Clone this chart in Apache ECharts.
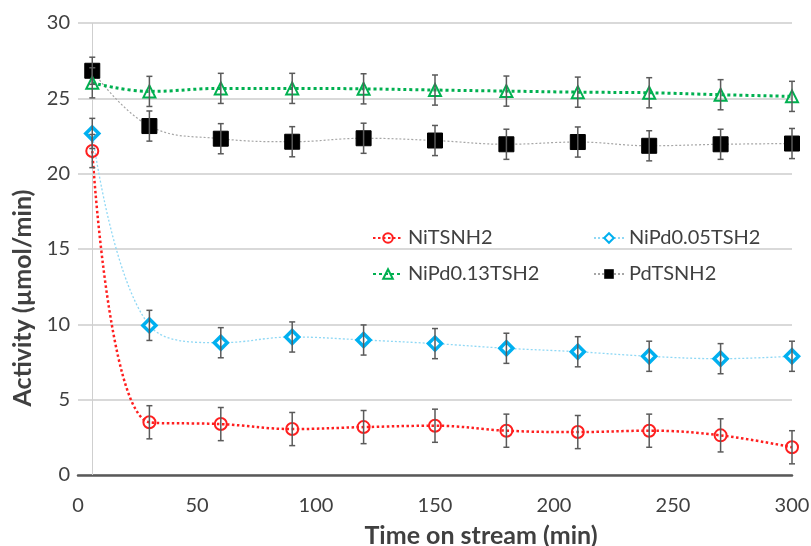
<!DOCTYPE html>
<html>
<head>
<meta charset="utf-8">
<script src="https://cdn.jsdelivr.net/npm/echarts@6/dist/echarts.min.js"></script>
<style>
html,body{margin:0;padding:0;background:#fff;}
#chart{width:811px;height:546px;}
</style>
</head>
<body>
<div id="chart"></div>
<script>
const times = [6, 30, 60, 90, 120, 150, 180, 210, 240, 270, 300];
const xTicks = [0, 50, 100, 150, 200, 250, 300];
const yTicks = [0, 5, 10, 15, 20, 25, 30];

const niTSNH2 = [21.5, 3.5, 3.38, 3.05, 3.18, 3.27, 2.94, 2.85, 2.94, 2.63, 1.84];
const niTSNH2Err = [1.1, 1.1, 1.1, 1.1, 1.1, 1.1, 1.1, 1.1, 1.1, 1.1, 1.1];

const niPd005 = [22.67, 9.93, 8.78, 9.16, 8.96, 8.72, 8.41, 8.18, 7.88, 7.72, 7.88];
const niPd005Err = [1.0, 1.0, 1.0, 1.0, 1.0, 1.0, 1.0, 1.0, 1.0, 1.0, 1.0];

const niPd013 = [26.03, 25.46, 25.66, 25.66, 25.63, 25.55, 25.48, 25.41, 25.37, 25.24, 25.13];
const niPd013Err = [1.0, 1.0, 1.0, 1.0, 1.0, 1.0, 1.0, 1.0, 1.0, 1.0, 1.0];

const pdTSNH2 = [26.83, 23.16, 22.32, 22.12, 22.35, 22.2, 21.95, 22.1, 21.85, 21.95, 22.0];
const pdTSNH2Err = [0.9, 1.0, 1.0, 1.0, 1.0, 1.0, 1.0, 1.0, 1.0, 1.0, 1.0];

const names = ['NiTSNH2', 'NiPd0.05TSH2', 'NiPd0.13TSH2', 'PdTSNH2'];

const FONT = 'Lato, "Open Sans", sans-serif';

function pairs(vals) { return times.map((t, i) => [t, vals[i]]); }
function errData(vals, errs) { return times.map((t, i) => [t, vals[i] - errs[i], vals[i] + errs[i]]); }

function errorSeries(vals, errs) {
  return {
    type: 'custom',
    z: 5,
    silent: true,
    data: errData(vals, errs),
    encode: { x: 0, y: [1, 2] },
    renderItem: function (params, api) {
      const lo = api.coord([api.value(0), api.value(1)]);
      const hi = api.coord([api.value(0), api.value(2)]);
      const cw = 3;
      const style = { stroke: '#5a5a5a', lineWidth: 1.5, fill: null };
      return {
        type: 'group',
        children: [
          { type: 'line', shape: { x1: lo[0], y1: lo[1], x2: hi[0], y2: hi[1] }, style: style },
          { type: 'line', shape: { x1: lo[0] - cw, y1: lo[1], x2: lo[0] + cw, y2: lo[1] }, style: style },
          { type: 'line', shape: { x1: hi[0] - cw, y1: hi[1], x2: hi[0] + cw, y2: hi[1] }, style: style }
        ]
      };
    }
  };
}

const chart = echarts.init(document.getElementById('chart'), null, { renderer: 'canvas' });

function legendAt(name, left, top) {
  return {
    data: [name],
    left: left, top: top,
    itemWidth: 30, itemHeight: 12,
    itemGap: 6,
    selectedMode: false,
    textStyle: { fontFamily: FONT, fontSize: 20, color: '#404040' }
  };
}

const option = {
  animation: false,
  backgroundColor: '#ffffff',
  grid: { left: 78, right: 19, top: 23, bottom: 71, containLabel: false, outerBoundsMode: 'none' },
  legend: [
    legendAt(names[0], 367, 223),
    legendAt(names[1], 588, 223),
    legendAt(names[2], 367, 259),
    legendAt(names[3], 588, 259)
  ],
  xAxis: {
    type: 'value',
    min: 0, max: 300, interval: 50,
    name: 'Time on stream (min)',
    nameLocation: 'middle',
    nameGap: 48,
    nameTextStyle: { fontFamily: FONT, fontSize: 25, fontWeight: 'bold', color: '#404040', padding: [0, 0, 0, 92] },
    axisLine: { show: true, onZero: false, lineStyle: { color: '#595959', width: 2.5 } },
    axisTick: { show: false },
    splitLine: { show: false },
    axisLabel: {
      fontFamily: FONT, fontSize: 20, color: '#404040', margin: 21,
      formatter: function (v) { return xTicks.indexOf(v) >= 0 ? String(v) : ''; }
    }
  },
  yAxis: {
    type: 'value',
    min: 0, max: 30, interval: 5,
    name: 'Activity (µmol/min)',
    nameLocation: 'middle',
    nameGap: 41,
    nameTextStyle: { fontFamily: FONT, fontSize: 25, fontWeight: 'bold', color: '#404040', padding: [0, 98, 0, 0] },
    axisLine: { show: false },
    axisTick: { show: false },
    splitLine: { show: true, lineStyle: { color: '#d9d9d9', width: 2 } },
    axisLabel: {
      fontFamily: FONT, fontSize: 20, color: '#404040', margin: 8,
      formatter: function (v) { return yTicks.indexOf(v) >= 0 ? String(v) : ''; }
    }
  },
  series: [
    {
      name: names[3], type: 'line', data: pairs(pdTSNH2), smooth: 0.4, z: 3,
      symbol: 'rect', symbolSize: 15,
      itemStyle: { color: '#000000', borderColor: '#000000' },
      lineStyle: { color: '#a6a6a6', width: 1.2, type: [2, 2] },
      markLine: {
        silent: true, symbol: ['none', 'none'], label: { show: false },
        lineStyle: { color: '#cfcfcf', width: 1, type: 'solid' },
        data: [{ xAxis: times[0] }]
      }
    },
    {
      name: names[2], type: 'line', data: pairs(niPd013), smooth: 0.4, z: 3,
      symbol: 'triangle', symbolSize: 12,
      itemStyle: { color: 'rgba(255,255,255,0)', borderColor: '#00b050', borderWidth: 2 },
      lineStyle: { color: '#00b050', width: 3, type: [3, 3] }
    },
    {
      name: names[1], type: 'line', data: pairs(niPd005), smooth: 0.4, z: 3,
      symbol: 'diamond', symbolSize: 13,
      itemStyle: { color: '#ffffff', borderColor: '#00b0f0', borderWidth: 3.5 },
      lineStyle: { color: '#8fd8f5', width: 1.3, type: [2, 2] }
    },
    {
      name: names[0], type: 'line', data: pairs(niTSNH2), smooth: 0.4, z: 3,
      symbol: 'circle', symbolSize: 12,
      itemStyle: { color: 'rgba(255,255,255,0)', borderColor: '#ff1f1f', borderWidth: 2 },
      lineStyle: { color: '#ff1f1f', width: 2.5, type: [2.5, 2.5] }
    },
    errorSeries(pdTSNH2, pdTSNH2Err),
    errorSeries(niPd013, niPd013Err),
    errorSeries(niPd005, niPd005Err),
    errorSeries(niTSNH2, niTSNH2Err)
  ]
};

chart.setOption(option);
</script>
</body>
</html>
